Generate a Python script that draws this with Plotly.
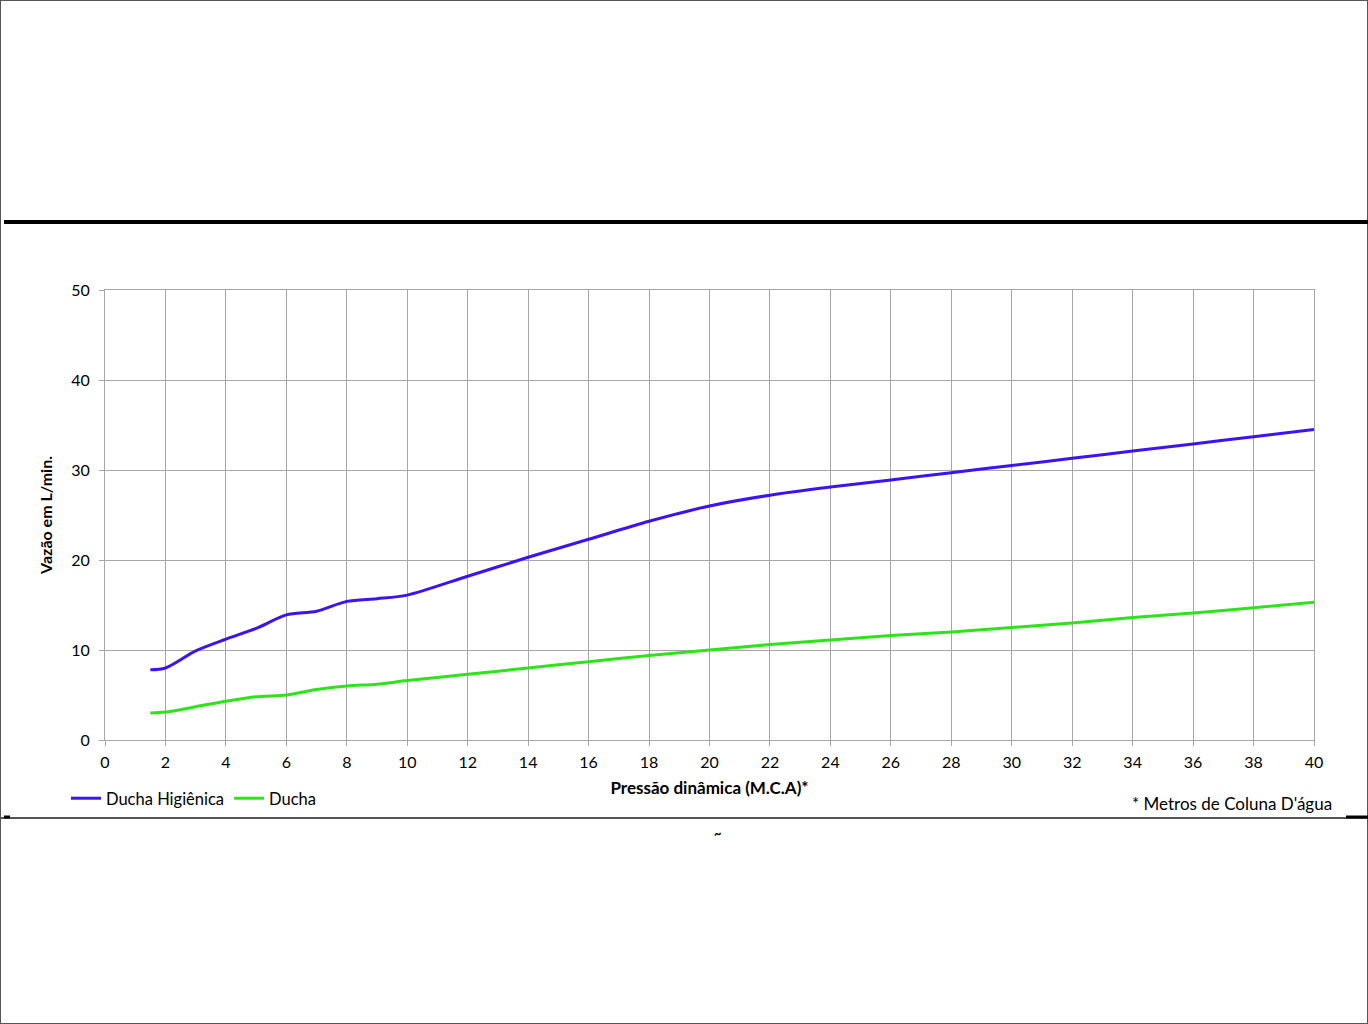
import plotly.graph_objects as go

W, H = 1368, 1024

pressao = [1.5, 2, 3, 4, 5, 6, 7, 8, 9, 10, 12, 14, 16, 18, 20, 22, 24, 26, 28, 30, 32, 34, 36, 38, 40]
ducha_higienica = [7.8, 8.0, 9.9, 11.2, 12.4, 13.9, 14.3, 15.4, 15.7, 16.1, 18.2, 20.3, 22.3, 24.3, 26.0, 27.2, 28.1, 28.9, 29.7, 30.5, 31.3, 32.1, 32.9, 33.7, 34.5]
ducha = [3.0, 3.1, 3.7, 4.3, 4.8, 5.0, 5.6, 6.0, 6.2, 6.6, 7.3, 8.0, 8.7, 9.4, 10.0, 10.6, 11.1, 11.6, 12.0, 12.5, 13.0, 13.6, 14.1, 14.7, 15.3]

x_ticks = list(range(0, 41, 2))
y_ticks = list(range(0, 51, 10))

BLUE = "#3d12f5"
GREEN = "#2ee31a"
FONT = "Lato, 'Open Sans', sans-serif"

def px(x):
    return x / W

def py(y):
    return 1 - y / H

fig = go.Figure()
fig.add_trace(go.Scatter(x=pressao, y=ducha_higienica, name="Ducha Higiênica", mode="lines",
                         line=dict(color=BLUE, width=3, shape="spline", smoothing=0.8)))
fig.add_trace(go.Scatter(x=pressao, y=ducha, name="Ducha", mode="lines",
                         line=dict(color=GREEN, width=3, shape="spline", smoothing=0.8)))

fig.update_layout(
    width=W, height=H,
    margin=dict(l=0, r=0, t=0, b=0, pad=0, autoexpand=False),
    paper_bgcolor="white", plot_bgcolor="white",
    font=dict(family=FONT, size=16, color="#000"),
    showlegend=True,
    legend=dict(orientation="h", x=px(66), y=py(781), xanchor="left", yanchor="top",
                font=dict(size=16.5), itemwidth=30, bgcolor="rgba(0,0,0,0)",
                tracegroupgap=0),
    xaxis=dict(domain=[px(105), px(1314)], range=[0, 40], tickvals=x_ticks,
               automargin=False,
               showgrid=True, gridcolor="#a6a6a6", gridwidth=1,
               showline=True, linecolor="#a6a6a6", mirror=True,
               ticks="outside", ticklen=5, tickcolor="#a6a6a6",
               tickfont=dict(size=16), zeroline=False, ticklabelstandoff=3,
               title=dict(text="<b>Pressão dinâmica (M.C.A)*</b>", font=dict(size=17), standoff=11)),
    yaxis=dict(domain=[py(740), py(290)], range=[0, 50], tickvals=y_ticks,
               automargin=False,
               showgrid=True, gridcolor="#a6a6a6", gridwidth=1,
               showline=True, linecolor="#a6a6a6", mirror=True,
               ticks="outside", ticklen=5, tickcolor="#a6a6a6",
               tickfont=dict(size=16), zeroline=False, ticklabelstandoff=6,
               title=dict(text="<b>Vazão em L/min.</b>", font=dict(size=16), standoff=14)),
)

shapes = [
    dict(type="rect", xref="paper", yref="paper", x0=0, x1=1, y0=0, y1=1,
         line=dict(color="#555", width=2)),
    dict(type="line", xref="paper", yref="paper", x0=px(4), x1=1, y0=py(222), y1=py(222),
         line=dict(color="#000", width=4)),
    dict(type="line", xref="paper", yref="paper", x0=0, x1=1, y0=py(818), y1=py(818),
         line=dict(color="#555", width=2)),
    dict(type="line", xref="paper", yref="paper", x0=px(4), x1=px(10), y0=py(817), y1=py(817),
         line=dict(color="#000", width=3)),
    dict(type="line", xref="paper", yref="paper", x0=px(1346), x1=1, y0=py(817), y1=py(817),
         line=dict(color="#000", width=3)),
]
fig.update_layout(shapes=shapes)

fig.add_annotation(x=px(1334), y=py(803), xref="paper", yref="paper", xanchor="right", yanchor="middle",
                   text="* Metros de Coluna D'água", showarrow=False, font=dict(size=17))
fig.add_annotation(x=px(718), y=py(833), xref="paper", yref="paper", xanchor="center", yanchor="middle",
                   text="<b>~</b>", showarrow=False, font=dict(size=13))

fig.write_html("out.html", config={"displayModeBar": False},
               post_script="document.body.style.margin='0';document.body.style.overflow='hidden';")
